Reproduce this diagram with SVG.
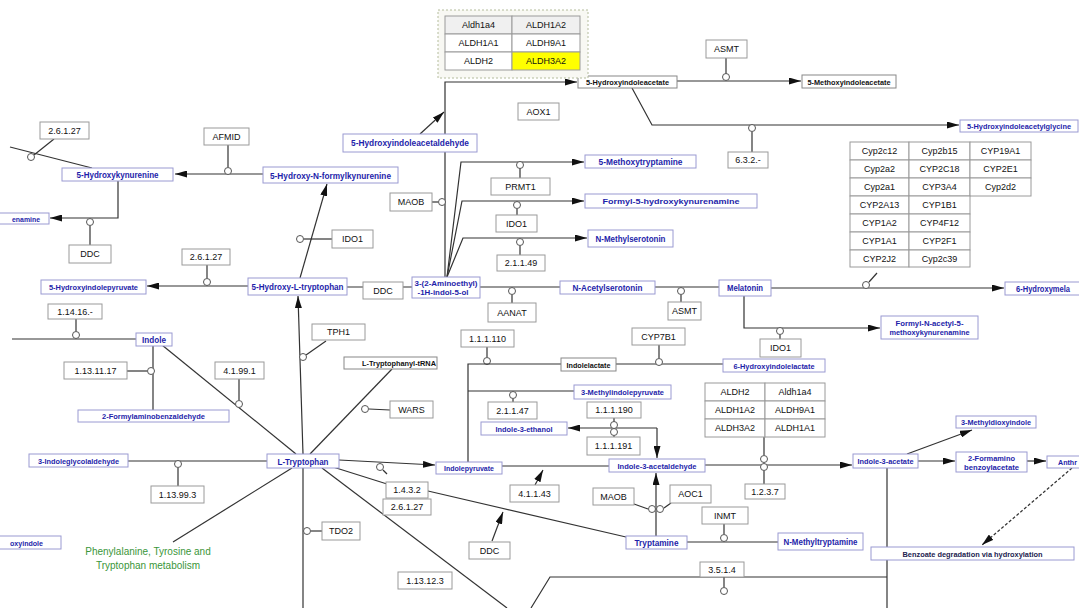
<svg xmlns="http://www.w3.org/2000/svg" width="1079" height="608" viewBox="0 0 1079 608">
<style>
.c rect{fill:#fff;stroke:#9a9ad2;stroke-width:1}
.c text{font-family:"Liberation Sans",Arial,sans-serif;font-size:8px;font-weight:bold;fill:#1e1eaa;text-anchor:middle}
.c text.k{fill:#111}
.c text.b{font-size:9px}
.e rect{fill:#fff;stroke:#9a9a9a;stroke-width:1}
.e text,.t text{font-family:"Liberation Sans",Arial,sans-serif;font-size:9px;fill:#111;text-anchor:middle}
.t rect{fill:#fff;stroke:#9a9a9a;stroke-width:1}
.ln{stroke:#333;stroke-width:1.2;fill:none}
.ck{fill:#fff;stroke:#555;stroke-width:1}
.map{font-family:"Liberation Sans",Arial,sans-serif;font-size:10px;fill:#3a963a;text-anchor:middle}
</style>
<defs>
<marker id="ar" viewBox="0 0 12 7" refX="12" refY="3.5" markerWidth="12" markerHeight="7" markerUnits="userSpaceOnUse" orient="auto"><path d="M0,0 L12,3.5 L0,7 z" fill="#111"/></marker>
</defs>
<rect width="1079" height="608" fill="#fff"/>

<g id="connectors">
<line class="ln" x1="10" y1="147" x2="92" y2="168"/>
<line class="ln" x1="54" y1="139" x2="34" y2="155"/>
<circle class="ck" cx="31" cy="157" r="3.5"/>
<line class="ln" x1="263" y1="174" x2="175" y2="174" marker-end="url(#ar)"/>
<line class="ln" x1="228" y1="145" x2="228" y2="167"/>
<circle class="ck" cx="228" cy="171" r="3.5"/>
<path class="ln" d="M118,181 V218 H50" marker-end="url(#ar)"/>
<line class="ln" x1="90" y1="245" x2="90" y2="226"/>
<circle class="ck" cx="90" cy="222" r="3.5"/>
<line class="ln" x1="248" y1="286" x2="147" y2="286" marker-end="url(#ar)"/>
<line class="ln" x1="207" y1="265" x2="207" y2="278"/>
<circle class="ck" cx="207" cy="282" r="3.5"/>
<line class="ln" x1="12" y1="339" x2="136" y2="339"/>
<line class="ln" x1="76" y1="319" x2="76" y2="331"/>
<circle class="ck" cx="76" cy="335" r="3.5"/>
<line class="ln" x1="153" y1="346" x2="153" y2="410"/>
<line class="ln" x1="127" y1="371" x2="147" y2="371"/>
<circle class="ck" cx="151" cy="371" r="3.5"/>
<line class="ln" x1="162" y1="345" x2="296" y2="454"/>
<line class="ln" x1="239" y1="379" x2="239" y2="400"/>
<circle class="ck" cx="239" cy="404" r="3.5"/>
<line class="ln" x1="128" y1="461" x2="267" y2="461"/>
<line class="ln" x1="178" y1="468" x2="178" y2="486"/>
<circle class="ck" cx="178" cy="464" r="3.5"/>
<line class="ln" x1="303" y1="454" x2="298" y2="296" marker-end="url(#ar)"/>
<line class="ln" x1="326" y1="341" x2="306" y2="355"/>
<circle class="ck" cx="303" cy="357" r="3.5"/>
<line class="ln" x1="303" y1="468" x2="303" y2="608"/>
<line class="ln" x1="311" y1="531" x2="322" y2="531"/>
<circle class="ck" cx="307" cy="531" r="3.5"/>
<line class="ln" x1="292" y1="468" x2="173" y2="542"/>
<line class="ln" x1="310" y1="454" x2="392" y2="369"/>
<line class="ln" x1="390" y1="410" x2="369" y2="409"/>
<circle class="ck" cx="365" cy="409" r="3.5"/>
<line class="ln" x1="339" y1="460" x2="435" y2="465" marker-end="url(#ar)"/>
<line class="ln" x1="383" y1="470" x2="387" y2="474"/>
<circle class="ck" cx="380" cy="467" r="3.5"/>
<polyline class="ln" points="333,467 387,484 428,491 626,537"/>
<line class="ln" x1="492" y1="541" x2="503" y2="512" marker-end="url(#ar)"/>
<line class="ln" x1="322" y1="468" x2="507" y2="608"/>
<polyline class="ln" points="531,608 550,577 887,577"/>
<line class="ln" x1="887" y1="468" x2="887" y2="608"/>
<line class="ln" x1="724" y1="577" x2="724" y2="587"/>
<circle class="ck" cx="724" cy="591" r="3.5"/>
<line class="ln" x1="300" y1="278" x2="327" y2="184" marker-end="url(#ar)"/>
<line class="ln" x1="304" y1="239" x2="332" y2="239"/>
<circle class="ck" cx="300" cy="239" r="3.5"/>
<line class="ln" x1="347" y1="287" x2="412" y2="287"/>
<path class="ln" d="M445,277 V82 H577" marker-end="url(#ar)"/>
<line class="ln" x1="420" y1="134" x2="444" y2="112" marker-end="url(#ar)"/>
<line class="ln" x1="432" y1="202" x2="438" y2="202"/>
<circle class="ck" cx="442" cy="202" r="3.5"/>
<path class="ln" d="M447,277 L461,162 H584" marker-end="url(#ar)"/>
<path class="ln" d="M447,277 L462,201 H584" marker-end="url(#ar)"/>
<path class="ln" d="M447,277 L463,238 H587" marker-end="url(#ar)"/>
<line class="ln" x1="520" y1="168" x2="520" y2="178"/>
<circle class="ck" cx="520" cy="165" r="3.5"/>
<line class="ln" x1="517" y1="209" x2="517" y2="215"/>
<circle class="ck" cx="517" cy="205" r="3.5"/>
<line class="ln" x1="520" y1="246" x2="520" y2="255"/>
<circle class="ck" cx="520" cy="242" r="3.5"/>
<line class="ln" x1="480" y1="287" x2="560" y2="287"/>
<line class="ln" x1="512" y1="295" x2="512" y2="303"/>
<circle class="ck" cx="512" cy="291" r="3.5"/>
<line class="ln" x1="655" y1="287" x2="719" y2="287"/>
<line class="ln" x1="681" y1="295" x2="681" y2="302"/>
<circle class="ck" cx="681" cy="291" r="3.5"/>
<line class="ln" x1="771" y1="288" x2="1004" y2="288" marker-end="url(#ar)"/>
<line class="ln" x1="869" y1="282" x2="877" y2="273"/>
<circle class="ck" cx="866" cy="285" r="3.5"/>
<path class="ln" d="M744,296 V328 H880" marker-end="url(#ar)"/>
<line class="ln" x1="780" y1="335" x2="780" y2="339"/>
<circle class="ck" cx="780" cy="331" r="3.5"/>
<line class="ln" x1="677" y1="81" x2="801" y2="81" marker-end="url(#ar)"/>
<line class="ln" x1="726" y1="58" x2="726" y2="74"/>
<circle class="ck" cx="726" cy="77" r="3.5"/>
<path class="ln" d="M632,88 L652,125 H959" marker-end="url(#ar)"/>
<line class="ln" x1="752" y1="132" x2="752" y2="152"/>
<circle class="ck" cx="752" cy="128" r="3.5"/>
<line class="ln" x1="487" y1="347" x2="487" y2="357"/>
<circle class="ck" cx="487" cy="361" r="3.5"/>
<path class="ln" d="M468,462 V364 H561"/>
<line class="ln" x1="616" y1="364" x2="723" y2="364"/>
<line class="ln" x1="659" y1="345" x2="659" y2="358"/>
<circle class="ck" cx="659" cy="362" r="3.5"/>
<line class="ln" x1="574" y1="391" x2="468" y2="391"/>
<line class="ln" x1="513" y1="399" x2="513" y2="402"/>
<circle class="ck" cx="513" cy="395" r="3.5"/>
<path class="ln" d="M657,428 H568" marker-end="url(#ar)"/>
<path class="ln" d="M657,428 V458" marker-end="url(#ar)"/>
<line class="ln" x1="614" y1="418" x2="614" y2="422"/>
<line class="ln" x1="614" y1="436" x2="614" y2="437"/>
<circle class="ck" cx="614" cy="425" r="3.5"/>
<circle class="ck" cx="614" cy="432" r="3.5"/>
<line class="ln" x1="502" y1="466" x2="609" y2="466"/>
<line class="ln" x1="535" y1="485" x2="543" y2="470" marker-end="url(#ar)"/>
<line class="ln" x1="656" y1="536" x2="656" y2="473" marker-end="url(#ar)"/>
<line class="ln" x1="634" y1="504" x2="648" y2="509"/>
<line class="ln" x1="671" y1="503" x2="664" y2="508"/>
<circle class="ck" cx="652" cy="509" r="3.5"/>
<circle class="ck" cx="660" cy="509" r="3.5"/>
<line class="ln" x1="687" y1="542" x2="778" y2="542"/>
<line class="ln" x1="724" y1="524" x2="724" y2="534"/>
<circle class="ck" cx="724" cy="538" r="3.5"/>
<line class="ln" x1="705" y1="465" x2="852" y2="465" marker-end="url(#ar)"/>
<line class="ln" x1="764" y1="437" x2="764" y2="455"/>
<line class="ln" x1="764" y1="471" x2="764" y2="484"/>
<circle class="ck" cx="764" cy="459" r="3.5"/>
<circle class="ck" cx="764" cy="467" r="3.5"/>
<line class="ln" x1="907" y1="454" x2="972" y2="430" marker-end="url(#ar)"/>
<line class="ln" x1="918" y1="461" x2="955" y2="461" marker-end="url(#ar)"/>
<line class="ln" x1="1027" y1="461" x2="1046" y2="461" marker-end="url(#ar)"/>
<line class="ln" x1="1072" y1="468" x2="982" y2="545" stroke-dasharray="3,2" marker-end="url(#ar)"/>
</g>

<g id="n_5hkyn" class="c"><rect x="62" y="168" width="111" height="13"/><text class="b" x="117.5" y="177.5" textLength="82" lengthAdjust="spacingAndGlyphs">5-Hydroxykynurenine</text></g>
<g id="n_5hnfk" class="c"><rect x="263" y="167" width="135" height="16"/><text class="b" x="330.5" y="178.5" textLength="121" lengthAdjust="spacingAndGlyphs">5-Hydroxy-N-formylkynurenine</text></g>
<g id="n_enamine" class="c"><rect x="-1" y="213" width="50" height="11"/><text x="26" y="221.5" textLength="28" lengthAdjust="spacingAndGlyphs">enamine</text></g>
<g id="n_5hial" class="c"><rect x="343" y="134" width="134" height="18"/><text class="b" x="410" y="146" textLength="118" lengthAdjust="spacingAndGlyphs">5-Hydroxyindoleacetaldehyde</text></g>
<g id="n_5hiaa" class="c"><rect x="578" y="76" width="99" height="12" style="stroke:#888"/><text class="k" x="627.5" y="85" textLength="83" lengthAdjust="spacingAndGlyphs">5-Hydroxyindoleacetate</text></g>
<g id="n_5miaa" class="c"><rect x="802" y="75" width="94" height="13" style="stroke:#888"/><text class="k" x="849" y="84.5" textLength="83" lengthAdjust="spacingAndGlyphs">5-Methoxyindoleacetate</text></g>
<g id="n_5hiag" class="c"><rect x="960" y="120" width="118" height="12"/><text x="1019" y="129" textLength="104" lengthAdjust="spacingAndGlyphs">5-Hydroxyindoleacetylglycine</text></g>
<g id="n_5mt" class="c"><rect x="585" y="155" width="111" height="13"/><text class="b" x="640.5" y="164.5" textLength="84" lengthAdjust="spacingAndGlyphs">5-Methoxytryptamine</text></g>
<g id="n_f5hk" class="c"><rect x="585" y="194" width="172" height="14"/><text x="671" y="204" textLength="137" lengthAdjust="spacingAndGlyphs">Formyl-5-hydroxykynurenamine</text></g>
<g id="n_nms" class="c"><rect x="588" y="230" width="85" height="17"/><text class="b" x="630.5" y="241.5" textLength="70" lengthAdjust="spacingAndGlyphs">N-Methylserotonin</text></g>
<g id="n_ser" class="c"><rect x="412" y="277" width="68" height="21"/><text x="446" y="286" textLength="63" lengthAdjust="spacingAndGlyphs">3-(2-Aminoethyl)</text><text x="443" y="295" textLength="51" lengthAdjust="spacingAndGlyphs">-1H-indol-5-ol</text></g>
<g id="n_nas" class="c"><rect x="560" y="281" width="95" height="13"/><text class="b" x="607.5" y="290.5" textLength="70" lengthAdjust="spacingAndGlyphs">N-Acetylserotonin</text></g>
<g id="n_mel" class="c"><rect x="719" y="280" width="52" height="16"/><text class="b" x="745" y="291" textLength="36" lengthAdjust="spacingAndGlyphs">Melatonin</text></g>
<g id="n_6hm" class="c"><rect x="1005" y="282" width="80" height="13"/><text class="b" x="1016" y="291.5" style="text-anchor:start" textLength="54" lengthAdjust="spacingAndGlyphs">6-Hydroxymela</text></g>
<g id="n_fnam" class="c"><rect x="881" y="316" width="97" height="23"/><text x="929.5" y="325.5" textLength="68" lengthAdjust="spacingAndGlyphs">Formyl-N-acetyl-5-</text><text x="929.5" y="335" textLength="80" lengthAdjust="spacingAndGlyphs">methoxykynurenamine</text></g>
<g id="n_5hip" class="c"><rect x="41" y="280" width="105" height="14"/><text x="93.5" y="290" textLength="89" lengthAdjust="spacingAndGlyphs">5-Hydroxyindolepyruvate</text></g>
<g id="n_5htp" class="c"><rect x="248" y="278" width="99" height="17"/><text class="b" x="297.5" y="289.5" textLength="92" lengthAdjust="spacingAndGlyphs">5-Hydroxy-L-tryptophan</text></g>
<g id="n_indole" class="c"><rect x="136" y="333" width="36" height="13"/><text class="b" x="154" y="342.5" textLength="24" lengthAdjust="spacingAndGlyphs">Indole</text></g>
<g id="n_2fab" class="c"><rect x="78" y="410" width="151" height="12"/><text x="153.5" y="419" textLength="103" lengthAdjust="spacingAndGlyphs">2-Formylaminobenzaldehyde</text></g>
<g id="n_3igla" class="c"><rect x="29" y="454" width="99" height="13"/><text x="78.5" y="463.5" textLength="81" lengthAdjust="spacingAndGlyphs">3-Indoleglycolaldehyde</text></g>
<g id="n_oxy" class="c"><rect x="-1" y="536" width="62" height="13"/><text x="10" y="545.5" style="text-anchor:start" textLength="33" lengthAdjust="spacingAndGlyphs">oxyindole</text></g>
<g id="n_trp" class="c"><rect x="267" y="454" width="72" height="14"/><text class="b" x="303" y="464.5" textLength="51" lengthAdjust="spacingAndGlyphs">L-Tryptophan</text></g>
<g id="n_trna" class="c"><rect x="344" y="357" width="93" height="12" style="stroke:#888"/><text class="k" x="399" y="366" textLength="74" lengthAdjust="spacingAndGlyphs">L-Tryptophanyl-tRNA</text></g>
<g id="n_ilac" class="c"><rect x="561" y="358" width="55" height="13" style="stroke:#888"/><text class="k" x="588.5" y="367.5" textLength="44" lengthAdjust="spacingAndGlyphs">Indolelactate</text></g>
<g id="n_6hil" class="c"><rect x="723" y="359" width="102" height="13"/><text x="774" y="368.5" textLength="81" lengthAdjust="spacingAndGlyphs">6-Hydroxyindolelactate</text></g>
<g id="n_3mip" class="c"><rect x="574" y="385" width="97" height="14"/><text x="622.5" y="395" textLength="83" lengthAdjust="spacingAndGlyphs">3-Methylindolepyruvate</text></g>
<g id="n_ieth" class="c"><rect x="481" y="422" width="86" height="13"/><text x="524" y="431.5" textLength="57" lengthAdjust="spacingAndGlyphs">Indole-3-ethanol</text></g>
<g id="n_ipyr" class="c"><rect x="436" y="462" width="66" height="12"/><text x="469" y="471" textLength="50" lengthAdjust="spacingAndGlyphs">Indolepyruvate</text></g>
<g id="n_iald" class="c"><rect x="609" y="459" width="96" height="13"/><text x="657" y="468.5" textLength="79" lengthAdjust="spacingAndGlyphs">Indole-3-acetaldehyde</text></g>
<g id="n_iaa" class="c"><rect x="853" y="454" width="65" height="14"/><text x="885.5" y="464" textLength="56" lengthAdjust="spacingAndGlyphs">Indole-3-acetate</text></g>
<g id="n_3mdi" class="c"><rect x="956" y="416" width="80" height="12"/><text x="996" y="425" textLength="70" lengthAdjust="spacingAndGlyphs">3-Methyldioxyindole</text></g>
<g id="n_2fba" class="c"><rect x="956" y="452" width="71" height="20"/><text x="991.5" y="460.5" textLength="47" lengthAdjust="spacingAndGlyphs">2-Formamino</text><text x="991.5" y="469.5" textLength="55" lengthAdjust="spacingAndGlyphs">benzoylacetate</text></g>
<g id="n_anth" class="c"><rect x="1047" y="456" width="40" height="12"/><text x="1058" y="465" style="text-anchor:start" textLength="19" lengthAdjust="spacingAndGlyphs">Anthr</text></g>
<g id="n_benz" class="c"><rect x="871" y="547" width="203" height="13"/><text x="972.5" y="556.5" style="fill:#222250" textLength="140" lengthAdjust="spacingAndGlyphs">Benzoate degradation via hydroxylation</text></g>
<g id="n_tryp" class="c"><rect x="626" y="536" width="61" height="13"/><text class="b" x="656.5" y="546" textLength="44" lengthAdjust="spacingAndGlyphs">Tryptamine</text></g>
<g id="n_nmt" class="c"><rect x="778" y="533" width="85" height="17"/><text class="b" x="820.5" y="544.5" textLength="74" lengthAdjust="spacingAndGlyphs">N-Methyltryptamine</text></g>

<g id="e_26127a" class="e"><rect x="40" y="122" width="49" height="17"/><text x="64.5" y="133.8">2.6.1.27</text></g>
<g id="e_afmid" class="e"><rect x="204" y="128" width="45" height="17"/><text x="226.5" y="139.8">AFMID</text></g>
<g id="e_ddc1" class="e"><rect x="69" y="245" width="42" height="18"/><text x="90" y="257.3">DDC</text></g>
<g id="e_26127b" class="e"><rect x="182" y="249" width="48" height="16"/><text x="206" y="260.3">2.6.1.27</text></g>
<g id="e_11416" class="e"><rect x="48" y="304" width="54" height="15"/><text x="75" y="314.8">1.14.16.-</text></g>
<g id="e_1131117" class="e"><rect x="64" y="362" width="63" height="17"/><text x="95.5" y="373.8">1.13.11.17</text></g>
<g id="e_41991" class="e"><rect x="215" y="362" width="49" height="17"/><text x="239.5" y="373.8">4.1.99.1</text></g>
<g id="e_tph1" class="e"><rect x="312" y="324" width="53" height="16"/><text x="338.5" y="335.3">TPH1</text></g>
<g id="e_ido1a" class="e"><rect x="332" y="230" width="41" height="18"/><text x="352.5" y="242.3">IDO1</text></g>
<g id="e_maoba" class="e"><rect x="390" y="193" width="42" height="18"/><text x="411" y="205.3">MAOB</text></g>
<g id="e_ddc2" class="e"><rect x="363" y="282" width="40" height="17"/><text x="383" y="293.8">DDC</text></g>
<g id="e_prmt1" class="e"><rect x="491" y="178" width="59" height="17"/><text x="520.5" y="189.8">PRMT1</text></g>
<g id="e_ido1b" class="e"><rect x="496" y="215" width="41" height="17"/><text x="516.5" y="226.8">IDO1</text></g>
<g id="e_21149" class="e"><rect x="497" y="255" width="48" height="16"/><text x="521" y="266.3">2.1.1.49</text></g>
<g id="e_aanat" class="e"><rect x="488" y="303" width="48" height="19"/><text x="512" y="315.8">AANAT</text></g>
<g id="e_asmta" class="e"><rect x="668" y="302" width="33" height="18"/><text x="684.5" y="314.3">ASMT</text></g>
<g id="e_aox1" class="e"><rect x="518" y="103" width="41" height="17"/><text x="538.5" y="114.8">AOX1</text></g>
<g id="e_asmtb" class="e"><rect x="706" y="40" width="41" height="18"/><text x="726.5" y="52.3">ASMT</text></g>
<g id="e_632" class="e"><rect x="728" y="152" width="40" height="16"/><text x="748" y="163.3">6.3.2.-</text></g>
<g id="e_ido1c" class="e"><rect x="760" y="339" width="41" height="18"/><text x="780.5" y="351.3">IDO1</text></g>
<g id="e_cyp7b1" class="e"><rect x="632" y="328" width="53" height="17"/><text x="658.5" y="339.8">CYP7B1</text></g>
<g id="e_111110" class="e"><rect x="461" y="330" width="53" height="17"/><text x="487.5" y="341.8">1.1.1.110</text></g>
<g id="e_21147" class="e"><rect x="488" y="402" width="49" height="17"/><text x="512.5" y="413.8">2.1.1.47</text></g>
<g id="e_111190" class="e"><rect x="587" y="402" width="54" height="16"/><text x="614" y="413.3">1.1.1.190</text></g>
<g id="e_111191" class="e"><rect x="587" y="437" width="53" height="18"/><text x="613.5" y="449.3">1.1.1.191</text></g>
<g id="e_wars" class="e"><rect x="390" y="401" width="43" height="17"/><text x="411.5" y="412.8">WARS</text></g>
<g id="e_113993" class="e"><rect x="151" y="486" width="53" height="17"/><text x="177.5" y="497.8">1.13.99.3</text></g>
<g id="e_tdo2" class="e"><rect x="322" y="522" width="38" height="18"/><text x="341" y="534.3">TDO2</text></g>
<g id="e_1432" class="e"><rect x="386" y="482" width="42" height="16"/><text x="407" y="493.3">1.4.3.2</text></g>
<g id="e_26127c" class="e"><rect x="383" y="499" width="48" height="16"/><text x="407" y="510.3">2.6.1.27</text></g>
<g id="e_41143" class="e"><rect x="510" y="485" width="49" height="17"/><text x="534.5" y="496.8">4.1.1.43</text></g>
<g id="e_ddc3" class="e"><rect x="469" y="542" width="41" height="17"/><text x="489.5" y="553.8">DDC</text></g>
<g id="e_113123" class="e"><rect x="398" y="572" width="54" height="17"/><text x="425" y="583.8">1.13.12.3</text></g>
<g id="e_maobb" class="e"><rect x="593" y="488" width="41" height="17"/><text x="613.5" y="499.8">MAOB</text></g>
<g id="e_aoc1" class="e"><rect x="670" y="485" width="41" height="18"/><text x="690.5" y="497.3">AOC1</text></g>
<g id="e_inmt" class="e"><rect x="702" y="507" width="46" height="17"/><text x="725" y="518.8">INMT</text></g>
<g id="e_1237" class="e"><rect x="745" y="484" width="40" height="15"/><text x="765" y="494.8">1.2.3.7</text></g>
<g id="e_3514" class="e"><rect x="700" y="562" width="44" height="15"/><text x="722" y="572.8">3.5.1.4</text></g>

<g id="t_aldh_top" class="t">
<rect x="438" y="10" width="150" height="68" style="fill:#f8f8f3;stroke:#b4bc9c;stroke-dasharray:2,2"/>
<rect x="445" y="16" width="67" height="18" style="fill:#f0f0f0"/><rect x="512" y="16" width="68" height="18" style="fill:#f0f0f0"/>
<rect x="445" y="34" width="67" height="18"/><rect x="512" y="34" width="68" height="18"/>
<rect x="445" y="52" width="67" height="18"/><rect x="512" y="52" width="68" height="18" style="fill:#ffff00"/>
<text x="478.5" y="28.3">Aldh1a4</text><text x="546" y="28.3">ALDH1A2</text>
<text x="478.5" y="46.3">ALDH1A1</text><text x="546" y="46.3">ALDH9A1</text>
<text x="478.5" y="64.3">ALDH2</text><text x="546" y="64.3">ALDH3A2</text>
</g>

<g id="t_cyp" class="t">
<rect x="850" y="142" width="59" height="18"/><rect x="909" y="142" width="61" height="18"/><rect x="970" y="142" width="61" height="18"/>
<rect x="850" y="160" width="59" height="18"/><rect x="909" y="160" width="61" height="18"/><rect x="970" y="160" width="61" height="18"/>
<rect x="850" y="178" width="59" height="18"/><rect x="909" y="178" width="61" height="18"/><rect x="970" y="178" width="61" height="18"/>
<rect x="850" y="196" width="59" height="18"/><rect x="909" y="196" width="61" height="18"/>
<rect x="850" y="214" width="59" height="18"/><rect x="909" y="214" width="61" height="18"/>
<rect x="850" y="232" width="59" height="18"/><rect x="909" y="232" width="61" height="18"/>
<rect x="850" y="250" width="59" height="17"/><rect x="909" y="250" width="61" height="17"/>
<text x="879.5" y="154.3">Cyp2c12</text><text x="939.5" y="154.3">Cyp2b15</text><text x="1000.5" y="154.3">CYP19A1</text>
<text x="879.5" y="172.3">Cyp2a2</text><text x="939.5" y="172.3">CYP2C18</text><text x="1000.5" y="172.3">CYP2E1</text>
<text x="879.5" y="190.3">Cyp2a1</text><text x="939.5" y="190.3">CYP3A4</text><text x="1000.5" y="190.3">Cyp2d2</text>
<text x="879.5" y="208.3">CYP2A13</text><text x="939.5" y="208.3">CYP1B1</text>
<text x="879.5" y="226.3">CYP1A2</text><text x="939.5" y="226.3">CYP4F12</text>
<text x="879.5" y="244.3">CYP1A1</text><text x="939.5" y="244.3">CYP2F1</text>
<text x="879.5" y="261.8">CYP2J2</text><text x="939.5" y="261.8">Cyp2c39</text>
</g>

<g id="t_aldh_bot" class="t">
<rect x="705" y="383" width="60" height="18"/><rect x="765" y="383" width="60" height="18"/>
<rect x="705" y="401" width="60" height="18"/><rect x="765" y="401" width="60" height="18"/>
<rect x="705" y="419" width="60" height="18"/><rect x="765" y="419" width="60" height="18"/>
<text x="735" y="395.3">ALDH2</text><text x="795" y="395.3">Aldh1a4</text>
<text x="735" y="413.3">ALDH1A2</text><text x="795" y="413.3">ALDH9A1</text>
<text x="735" y="431.3">ALDH3A2</text><text x="795" y="431.3">ALDH1A1</text>
</g>

<g id="map_phe">
<text class="map" x="148" y="555">Phenylalanine, Tyrosine and</text>
<text class="map" x="148" y="569">Tryptophan metabolism</text>
</g>
</svg>
